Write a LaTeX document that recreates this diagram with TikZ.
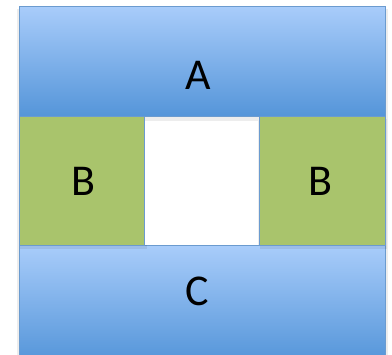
\documentclass[tikz,border=0pt]{standalone}
\usepackage{fontspec}
\setmainfont{Carlito}
\definecolor{bluetop}{HTML}{A8CCFA}
\definecolor{bluebot}{HTML}{5495D9}
\definecolor{edgeblue}{HTML}{6B9BCF}
\definecolor{greenfill}{HTML}{A9C46C}
\begin{document}
\begin{tikzpicture}[x=1pt,y=-1pt,
  bluebox/.style={draw=edgeblue, line width=1pt, top color=bluetop, bottom color=bluebot},
  greenbox/.style={draw=edgeblue, line width=1pt, fill=greenfill},
  lbl/.style={font=\fontsize{44}{44}\selectfont, text=black},
  shade/.style={fill=black, opacity=0.07}]
\useasboundingbox (0,0) rectangle (392,355);
\clip (0,0) rectangle (392,355);
% shadows
\fill[shade] (17,9) rectangle (388,360);
% C
\draw[bluebox] (19,246) rectangle (385,362);
% B boxes with shadow
\fill[shade] (20,119) rectangle (147,249);
\fill[shade] (260,119) rectangle (387,249);
\draw[greenbox] (19,117) rectangle (144,246);
\draw[greenbox] (259,117) rectangle (385,246);
% A
\draw[bluebox] (19,7) rectangle (385,117);
\fill[white] (145,118) rectangle (258,245);
\fill[shade] (145,118) rectangle (258,121);
\draw[edgeblue, line width=1pt] (144,117) -- (144,246) (259,117) -- (259,246);
\node[lbl] (a) at (198,75) {A};
\node[lbl] (b1) at (83,181) {B};
\node[lbl] (b2) at (320,181) {B};
\node[lbl] (c) at (197,291) {C};
\end{tikzpicture}
\end{document}
